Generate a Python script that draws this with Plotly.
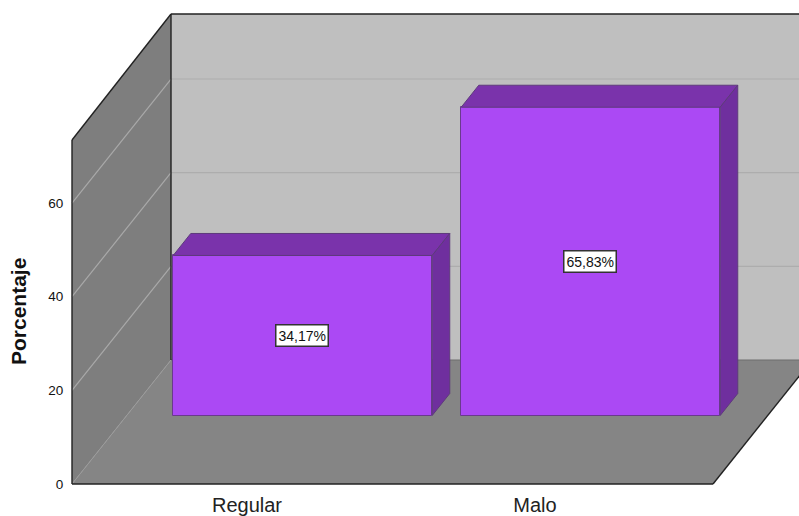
import plotly.graph_objects as go

categories = ["Regular", "Malo"]
positions = [0, 1]
percent = [34.17, 65.83]
y_ticks = [0, 20, 40, 60]

# oblique projection of the box, in axis units
W, H = 799, 516
PX_X, PX_Y = 288.0, 4.683
X0_PX, Y0_PX = 247.0, 484.0
x_range = [(0 - X0_PX) / PX_X, (W - X0_PX) / PX_X]
y_range = [(Y0_PX - H) / PX_Y, Y0_PX / PX_Y]
DX, DY = 99 / PX_X, 124 / PX_Y       # full floor depth
LEFT, RIGHT = (72 - X0_PX) / PX_X, (713 - X0_PX) / PX_X
WALL_FRONT, WALL_BACK = 344 / PX_Y, 346 / PX_Y
D_FRONT, D_BACK = 68.5 / 124, 90.5 / 124  # bar depth along the floor
HALF = 129.5 / PX_X
NUDGE = 1 / PX_X


def pr(x, v, d):
    return x + d * DX, v + d * DY


def path(points):
    return "M " + " L ".join(f"{a},{b}" for a, b in points) + " Z"


shapes = []


def poly(points, fill, line="rgba(0,0,0,0)", width=0):
    shapes.append(dict(type="path", path=path(points), fillcolor=fill, xref="x", yref="y",
                       line=dict(color=line, width=width), layer="below"))


def seg(a, b, color, width=1.0):
    shapes.append(dict(type="line", x0=a[0], y0=a[1], x1=b[0], y1=b[1], xref="x", yref="y",
                       line=dict(color=color, width=width), layer="below"))


# back wall, left wall, floor
poly([pr(LEFT, 0, 1), pr(RIGHT + 1, 0, 1), pr(RIGHT + 1, WALL_BACK, 1), pr(LEFT, WALL_BACK, 1)], "#BFBFBF")
poly([pr(LEFT, 0, 0), pr(LEFT, 0, 1), pr(LEFT, WALL_BACK, 1), pr(LEFT, WALL_FRONT, 0)], "#7E7E7E")
poly([pr(LEFT, 0, 0), pr(RIGHT, 0, 0), pr(RIGHT, 0, 1), pr(LEFT, 0, 1)], "#858585")
for v in y_ticks[1:]:
    seg(pr(LEFT, v, 0), pr(LEFT, v, 1), "#A9A9A9", 1.2)
    seg(pr(LEFT, v, 1), pr(RIGHT + 1, v, 1), "#ADADAD", 1.2)
seg(pr(LEFT, 0, 1), pr(RIGHT, 0, 1), "#6E6E6E", 1.2)
seg(pr(LEFT, 0, 0), pr(LEFT, 0, 1), "#9A9A9A", 1.0)
seg(pr(LEFT, 0, 0), pr(LEFT, WALL_FRONT, 0), "#222222", 1.4)
seg(pr(LEFT, WALL_FRONT, 0), pr(LEFT, WALL_BACK, 1), "#222222", 1.4)
seg(pr(LEFT, WALL_BACK, 1), pr(RIGHT + 1, WALL_BACK, 1), "#222222", 1.4)
seg(pr(LEFT, 0, 1), pr(LEFT, WALL_BACK, 1), "#222222", 1.4)
seg(pr(LEFT, 0, 0), pr(RIGHT, 0, 0), "#222222", 1.4)
seg(pr(RIGHT, 0, 0), pr(RIGHT, 0, 1), "#222222", 1.4)

fig = go.Figure()

lift = D_FRONT * DY
shift = D_FRONT * DX
fig.add_trace(go.Bar(
    x=[p + shift + NUDGE for p in positions], y=percent, base=[lift] * len(percent), width=2 * HALF,
    marker=dict(color="#AB49F4", line=dict(color="#6A3A8E", width=1)), showlegend=False,
))

for p, v in zip(positions, percent):
    l, r = p - HALF + NUDGE, p + HALF + NUDGE
    top = [pr(l, v, D_FRONT), pr(r, v, D_FRONT), pr(r, v, D_BACK), pr(l, v, D_BACK), pr(l, v, D_FRONT)]
    side = [pr(r, 0, D_FRONT), pr(r, 0, D_BACK), pr(r, v, D_BACK), pr(r, v, D_FRONT), pr(r, 0, D_FRONT)]
    for pts, col in ((top, "#7A33AB"), (side, "#6F2F9E")):
        fig.add_trace(go.Scatter(
            x=[a for a, _ in pts], y=[b for _, b in pts], mode="lines", fill="toself",
            fillcolor=col, line=dict(color="#5E3A7C", width=1), showlegend=False,
        ))

annotations = [
    dict(x=p + shift, y=lift + v / 2, xref="x", yref="y", showarrow=False,
         text=f"{v:.2f}".replace(".", ",") + "%",
         font=dict(family="Liberation Sans", size=14, color="#111111"),
         bgcolor="white", bordercolor="#333333", borderwidth=1.5, borderpad=2)
    for p, v in zip(positions, percent)
]
annotations.append(dict(x=18 / W, y=1 - 312 / H, xref="paper", yref="paper", showarrow=False,
                        xanchor="center", yanchor="middle",
                        text="<b>Porcentaje</b>", textangle=-90,
                        font=dict(family="Liberation Sans", size=21, color="#111111")))

fig.update_layout(
    width=W, height=H, margin=dict(l=0, r=0, t=0, b=0), autosize=False,
    paper_bgcolor="white", plot_bgcolor="white", bargap=0,
    shapes=shapes, annotations=annotations,
    xaxis=dict(range=x_range, domain=[0, 1], anchor="free", position=1 - Y0_PX / H, automargin=False,
               tickvals=positions, ticktext=categories, showgrid=False, zeroline=False,
               showline=False, ticks="outside", ticklen=3, tickcolor="rgba(0,0,0,0)",
               tickfont=dict(family="Liberation Sans", size=20, color="#222222")),
    yaxis=dict(range=y_range, domain=[0, 1], anchor="free", position=72 / W, automargin=False,
               tickvals=y_ticks, showgrid=False, zeroline=False, showline=False,
               ticks="outside", ticklen=6, tickcolor="rgba(0,0,0,0)",
               tickfont=dict(family="Liberation Sans", size=13.5, color="#111111")),
)

fig.write_html("out.html", config=dict(displayModeBar=False),
               post_script="document.body.style.margin='0';document.documentElement.style.overflow='hidden';")
